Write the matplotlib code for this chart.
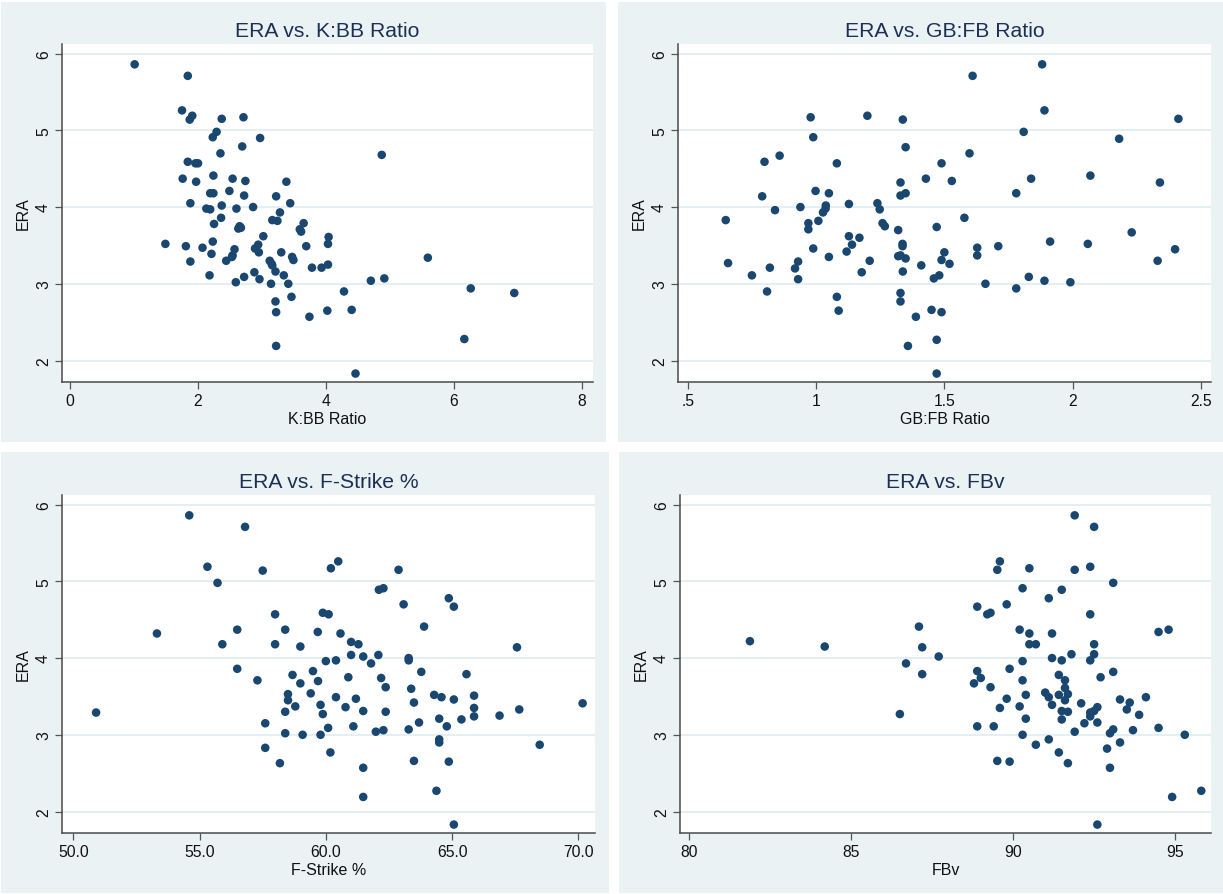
import matplotlib
matplotlib.use("Agg")
import matplotlib.pyplot as plt
from matplotlib.patches import Rectangle

plt.rcParams['font.family'] = ['Liberation Sans', 'DejaVu Sans']

# ---------------- data ----------------
kbb_ratio = [1.01, 1.84, 1.75, 1.91, 1.87, 2.37, 2.71, 2.29, 2.23, 2.97, 2.69, 2.35, 4.87,
             1.84, 1.96, 2.00, 2.24, 1.76, 2.54, 2.74, 1.97, 3.38, 2.49, 2.19, 2.24, 2.72,
             3.22, 1.88, 3.44, 2.37, 2.13, 2.19, 2.60, 2.86, 3.28, 2.36, 3.16, 3.24, 2.25,
             3.65, 2.65, 2.63, 2.67, 3.59, 3.61, 3.02, 4.04, 1.49, 2.23, 4.03, 1.81, 3.69,
             2.07, 2.57, 2.94, 2.89, 2.95, 3.30, 2.21, 2.54, 2.53, 3.47, 3.49, 5.59, 1.88,
             2.44, 3.12, 3.15, 3.16, 4.03, 3.78, 3.93, 2.88, 3.21, 2.18, 3.34, 2.72, 2.96,
             4.91, 4.70, 2.59, 3.14, 3.41, 6.26, 6.94, 4.28, 3.46, 3.21, 3.22, 4.02, 4.40,
             3.74, 3.22, 6.16, 4.46]
kbb_era = [5.86, 5.71, 5.26, 5.19, 5.14, 5.15, 5.17, 4.98, 4.91, 4.90, 4.79, 4.70, 4.68,
           4.59, 4.57, 4.57, 4.41, 4.37, 4.37, 4.34, 4.33, 4.33, 4.21, 4.18, 4.18, 4.15,
           4.14, 4.05, 4.05, 4.02, 3.98, 3.97, 3.98, 4.00, 3.93, 3.86, 3.83, 3.82, 3.78,
           3.79, 3.75, 3.72, 3.73, 3.71, 3.68, 3.62, 3.61, 3.52, 3.55, 3.52, 3.49, 3.49,
           3.47, 3.45, 3.51, 3.46, 3.41, 3.41, 3.39, 3.37, 3.35, 3.35, 3.31, 3.34, 3.29,
           3.30, 3.30, 3.26, 3.24, 3.25, 3.21, 3.21, 3.15, 3.16, 3.11, 3.11, 3.09, 3.06,
           3.07, 3.04, 3.02, 3.00, 3.00, 2.94, 2.88, 2.90, 2.83, 2.77, 2.63, 2.65, 2.66,
           2.57, 2.19, 2.28, 1.83]

gbfb_ratio = [1.881, 1.610, 1.890, 0.979, 1.200, 1.338, 2.412, 1.809, 0.989, 2.181, 1.349,
              1.598, 0.858, 0.799, 1.081, 1.489, 2.069, 1.428, 1.838, 1.329, 1.529, 2.340,
              0.998, 1.050, 1.349, 1.329, 1.780, 0.790, 1.128, 1.239, 0.939, 1.038, 1.248,
              0.840, 1.037, 1.027, 0.648, 1.009, 1.578, 0.970, 1.259, 1.268, 1.470, 0.970,
              1.320, 2.230, 1.128, 1.169, 1.912, 1.140, 1.337, 1.337, 2.059, 1.710, 1.628,
              0.989, 2.399, 1.119, 1.500, 1.329, 1.320, 1.628, 1.050, 1.349, 1.489, 0.657,
              0.930, 1.209, 2.331, 1.410, 1.520, 0.820, 0.918, 1.178, 1.338, 0.750, 1.480,
              1.459, 1.829, 0.930, 1.890, 1.991, 1.660, 1.780, 0.809, 1.329, 1.081, 1.329,
              1.088, 1.450, 1.489, 1.389, 1.470, 1.358, 1.470]
gbfb_era = [5.86, 5.71, 5.26, 5.17, 5.19, 5.14, 5.15, 4.98, 4.91, 4.89, 4.78, 4.70, 4.67,
            4.59, 4.57, 4.57, 4.41, 4.37, 4.37, 4.32, 4.34, 4.32, 4.21, 4.18, 4.18, 4.15,
            4.18, 4.14, 4.04, 4.05, 4.00, 4.02, 3.97, 3.96, 3.98, 3.93, 3.83, 3.82, 3.86,
            3.79, 3.79, 3.75, 3.74, 3.71, 3.70, 3.67, 3.62, 3.60, 3.55, 3.51, 3.52, 3.49,
            3.52, 3.49, 3.47, 3.46, 3.45, 3.42, 3.41, 3.37, 3.36, 3.37, 3.35, 3.33, 3.31,
            3.27, 3.29, 3.30, 3.30, 3.24, 3.26, 3.21, 3.20, 3.15, 3.16, 3.11, 3.11, 3.07,
            3.09, 3.06, 3.04, 3.02, 3.00, 2.94, 2.90, 2.88, 2.83, 2.77, 2.65, 2.66, 2.63,
            2.57, 2.27, 2.19, 1.83]

fstrike_pct = [54.59, 56.80, 60.49, 55.31, 60.20, 57.50, 62.88, 55.71, 62.10, 62.28, 64.87,
               63.08, 65.07, 57.99, 59.88, 60.11, 63.89, 56.49, 58.39, 59.68, 53.31, 60.58,
               61.00, 61.29, 55.90, 57.99, 58.99, 67.57, 61.00, 62.08, 61.48, 63.28, 63.28,
               60.00, 60.40, 61.79, 56.49, 59.49, 63.78, 65.57, 58.68, 60.89, 62.19, 57.29,
               59.69, 58.99, 62.37, 63.38, 59.40, 58.50, 64.29, 64.58, 60.40, 65.87, 58.50,
               61.19, 65.07, 63.49, 70.17, 59.79, 58.79, 60.78, 65.87, 67.66, 61.48, 62.37,
               58.39, 50.90, 59.88, 66.88, 65.87, 64.49, 65.37, 63.69, 57.60, 61.09, 64.79,
               60.09, 63.28, 62.28, 61.98, 58.39, 59.08, 59.79, 64.49, 64.49, 68.47, 57.60,
               60.18, 63.49, 64.87, 58.18, 61.48, 64.38, 61.48, 65.07]
fstrike_era = [5.86, 5.71, 5.26, 5.19, 5.17, 5.14, 5.15, 4.98, 4.89, 4.91, 4.78, 4.70, 4.67,
               4.57, 4.59, 4.57, 4.41, 4.37, 4.37, 4.34, 4.32, 4.32, 4.21, 4.18, 4.18, 4.18,
               4.15, 4.14, 4.04, 4.04, 4.02, 4.00, 3.97, 3.96, 3.97, 3.93, 3.86, 3.83, 3.82,
               3.79, 3.78, 3.75, 3.74, 3.71, 3.70, 3.67, 3.62, 3.60, 3.54, 3.53, 3.52, 3.49,
               3.49, 3.51, 3.45, 3.47, 3.46, 3.42, 3.41, 3.39, 3.37, 3.36, 3.35, 3.33, 3.31,
               3.30, 3.30, 3.29, 3.27, 3.25, 3.24, 3.21, 3.20, 3.16, 3.15, 3.11, 3.11, 3.09,
               3.07, 3.06, 3.04, 3.02, 3.00, 3.00, 2.94, 2.90, 2.87, 2.83, 2.77, 2.66, 2.65,
               2.63, 2.57, 2.27, 2.19, 1.83]

fbv = [91.91, 92.51, 89.60, 89.52, 90.51, 91.91, 92.39, 93.10, 90.30, 91.51, 91.11, 89.81,
       88.90, 89.21, 89.31, 92.39, 87.10, 90.21, 94.50, 94.81, 90.51, 91.21, 81.88, 90.51,
       90.71, 92.51, 84.19, 87.20, 91.81, 92.51, 87.71, 91.21, 91.51, 90.30, 92.39, 86.70,
       89.90, 88.90, 93.10, 87.20, 91.42, 92.71, 89.01, 91.61, 90.30, 88.80, 89.31, 91.61,
       91.00, 91.70, 91.42, 90.40, 91.11, 94.11, 89.81, 93.31, 91.61, 93.61, 92.11, 91.21,
       90.21, 92.61, 89.60, 93.52, 92.51, 91.51, 91.70, 92.39, 86.51, 93.90, 92.39, 90.40,
       91.51, 92.21, 92.61, 88.90, 89.41, 94.50, 93.10, 93.71, 91.91, 93.00, 90.30, 95.31,
       91.11, 93.31, 90.71, 92.91, 91.42, 89.52, 89.90, 91.70, 93.00, 95.82, 94.92, 92.61]
fbv_era = [5.86, 5.71, 5.26, 5.15, 5.17, 5.15, 5.19, 4.98, 4.91, 4.89, 4.78, 4.70, 4.67,
           4.57, 4.59, 4.57, 4.41, 4.37, 4.34, 4.37, 4.32, 4.32, 4.22, 4.18, 4.18, 4.18,
           4.15, 4.14, 4.05, 4.05, 4.02, 4.00, 3.97, 3.96, 3.97, 3.93, 3.86, 3.83, 3.82,
           3.79, 3.78, 3.75, 3.74, 3.71, 3.71, 3.67, 3.62, 3.61, 3.55, 3.53, 3.52, 3.52,
           3.49, 3.49, 3.47, 3.46, 3.45, 3.42, 3.41, 3.39, 3.37, 3.36, 3.35, 3.33, 3.31,
           3.31, 3.30, 3.29, 3.27, 3.26, 3.24, 3.21, 3.20, 3.15, 3.16, 3.11, 3.11, 3.09,
           3.07, 3.06, 3.04, 3.02, 3.00, 3.00, 2.94, 2.90, 2.87, 2.82, 2.77, 2.66, 2.65,
           2.63, 2.57, 2.27, 2.19, 1.83]

titles = ["ERA vs. K:BB Ratio", "ERA vs. GB:FB Ratio", "ERA vs. F-Strike %", "ERA vs. FBv"]
xlabels = ["K:BB Ratio", "GB:FB Ratio", "F-Strike %", "FBv"]
y_ticks = [2, 3, 4, 5, 6]
x_ticks = [[0, 2, 4, 6, 8], [0.5, 1, 1.5, 2, 2.5], [50, 55, 60, 65, 70], [80, 85, 90, 95]]
x_ticklabels = [["0", "2", "4", "6", "8"], [".5", "1", "1.5", "2", "2.5"],
                ["50.0", "55.0", "60.0", "65.0", "70.0"], ["80", "85", "90", "95"]]

# ---------------- figure ----------------
W, H = 1223, 895
fig = plt.figure(figsize=(W / 100, H / 100), dpi=100)
fig.patch.set_facecolor("white")

BG = "#eaf2f3"
GRID = "#e5eef0"
MARK = "#1a476f"
TITLEC = "#1c3056"

def px_rect(x0, y0, x1, y1):
    return [x0 / W, 1 - y1 / H, (x1 - x0) / W, (y1 - y0) / H]

# panel backgrounds (pixel boxes)
panels = [(1, 3, 606, 443), (618, 3, 1223, 443), (1, 453, 609, 894), (619, 453, 1223, 894)]
for (x0, y0, x1, y1) in panels:
    fig.add_artist(Rectangle((x0 / W, 1 - y1 / H), (x1 - x0) / W, (y1 - y0) / H,
                             transform=fig.transFigure, facecolor=BG, edgecolor="none",
                             zorder=-10))

# plot areas (pixel boxes)
areas = [(62, 45, 593, 383), (678, 45, 1211, 383), (62, 496, 595, 834), (680, 496, 1211, 834)]
xlims = [(-0.125, 8.17), (0.462, 2.539), (49.55, 70.66), (79.72, 96.12)]
xs = [kbb_ratio, gbfb_ratio, fstrike_pct, fbv]
ys = [kbb_era, gbfb_era, fstrike_era, fbv_era]

for i in range(4):
    ax = fig.add_axes(px_rect(*areas[i]))
    ax.set_zorder(1)
    ax.set_facecolor("white")
    ax.scatter(xs[i], ys[i], s=38, color=MARK, edgecolors="none", zorder=3)
    ax.set_xlim(*xlims[i])
    ax.set_ylim(1.72, 6.125)
    ax.set_yticks(y_ticks)
    ax.set_yticklabels([str(t) for t in y_ticks], rotation=90, va="center")
    ax.set_xticks(x_ticks[i])
    ax.set_xticklabels(x_ticklabels[i])
    ax.grid(axis="y", color=GRID, linewidth=1.5, zorder=1)
    ax.set_axisbelow(True)
    for s in ("top", "right"):
        ax.spines[s].set_visible(False)
    for s in ("left", "bottom"):
        ax.spines[s].set_color("#4a4a4a")
        ax.spines[s].set_linewidth(1.1)
    ax.tick_params(axis="both", length=5, width=0.9, color="#555555",
                   labelsize=11.3, labelcolor="#111111", pad=3)
    ax.set_title(titles[i], fontsize=15.2, color=TITLEC, pad=6)
    ax.set_xlabel(xlabels[i], fontsize=11.5, color="#111111", labelpad=2)
    ax.set_ylabel("ERA", fontsize=11.5, color="#111111", labelpad=4)

fig.savefig("out.png", dpi=100, facecolor="white")
